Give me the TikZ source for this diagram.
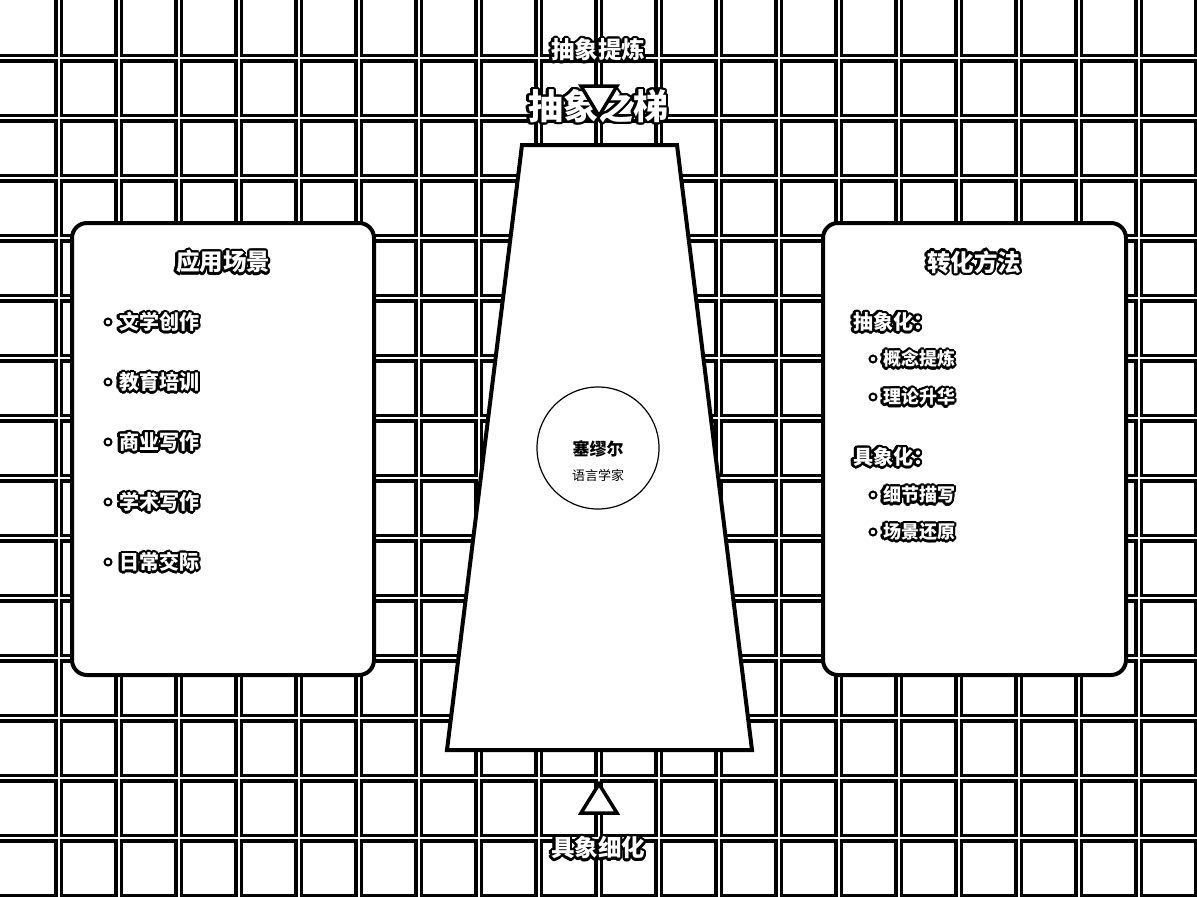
\documentclass[tikz,border=0pt]{standalone}
\usepackage{fontspec}
\setmainfont{Noto Sans CJK SC}
\tikzset{
  gridblack/.style={line width=9pt, draw=black},
  gridwhite/.style={line width=2pt, draw=white},
  panel/.style={rectangle, draw=black, fill=white, line width=4pt, rounded corners=15pt, inner sep=0pt},
  ladder/.style={draw=black, fill=white, line width=4pt, line join=miter},
  tri/.style={draw=black, fill=white, line width=3.5pt, line join=miter},
  lbl/.style={inner sep=0pt, outer sep=0pt},
  big/.style={lbl, font=\fontsize{35}{38}\selectfont\bfseries},
  mid/.style={lbl, font=\fontsize{23.5}{26}\selectfont\bfseries},
  item/.style={lbl, anchor=west, font=\fontsize{20}{22}\selectfont\bfseries},
  subitem/.style={lbl, anchor=west, font=\fontsize{18}{20}\selectfont\bfseries},
  bulletdot/.style={circle, draw=black, fill=white, line width=2pt, minimum size=7pt, inner sep=0pt},
  core/.style={circle, draw=black, fill=white, line width=1.2pt, minimum size=122pt, inner sep=0pt},
}
% haloed label: #1 style, #2 name, #3 position, #4 text
\newcommand\hnode[4]{%
  \foreach \a in {0,22.5,...,337.5}{\node[#1, text=black, shift={(\a:2.4pt)}] at #3 {#4};}
  \node[#1, text=white] (#2) at #3 {#4};}
\begin{document}
\begin{tikzpicture}[x=1pt,y=-1pt]
\fill[white] (0,0) rectangle (1197,897);
\useasboundingbox (0,0) rectangle (1197,897);
% grid
\begin{scope}
\clip (0,0) rectangle (1197,897);
\foreach \i in {0,...,19}{\draw[gridblack] (58.5+60*\i,0) -- (58.5+60*\i,897);}
\foreach \j in {0,...,14}{\draw[gridblack] (0,58+60*\j) -- (1197,58+60*\j);}
\foreach \i in {0,...,19}{\draw[gridwhite] (58.5+60*\i,0) -- (58.5+60*\i,897);}
\foreach \j in {0,...,14}{\draw[gridwhite] (0,58+60*\j) -- (1197,58+60*\j);}
\end{scope}
% panels
\node[panel, minimum width=302pt, minimum height=452pt] (left) at (223,449) {};
\node[panel, minimum width=303pt, minimum height=452pt] (right) at (974.5,449) {};
% ladder
\draw[ladder] (522,145) -- (677,145) -- (752,750) -- (447,750) -- cycle;
\node[core] (core) at (598,448) {};
\node[lbl, font=\fontsize{17}{20}\selectfont\bfseries] (person) at (598,449) {塞缪尔};
\node[lbl, font=\fontsize{13}{15}\selectfont] (role) at (598,475) {语言学家};
% titles
\hnode{mid}{up}{(598,50)}{抽象提炼}
\hnode{big}{title}{(598,106)}{抽象之梯}
\hnode{mid}{down}{(598,848)}{具象细化}
% left panel
\hnode{mid}{lt}{(223,262)}{应用场景}
\foreach \y/\t/\n in {322/文学创作/a,382/教育培训/b,442/商业写作/c,502/学术写作/d,562/日常交际/e}{
  \node[bulletdot] (lb\n) at (108,\y) {};
  \hnode{item}{li\n}{(119,\y)}{\t}
}
% right panel
\hnode{mid}{rt}{(974,262)}{转化方法}
\hnode{item}{abs}{(853,322)}{抽象化：}
\hnode{item}{con}{(853,457)}{具象化：}
\foreach \y/\t/\n in {359/概念提炼/a,397/理论升华/b,495/细节描写/c,532/场景还原/d}{
  \node[bulletdot] (rb\n) at (873,\y) {};
  \hnode{subitem}{ri\n}{(883,\y)}{\t}
}
% arrow heads
\draw[tri] (581,86) -- (617,86) -- (599,116) -- cycle;
\draw[tri] (599,784) -- (617,813) -- (581,813) -- cycle;
\end{tikzpicture}
\end{document}
